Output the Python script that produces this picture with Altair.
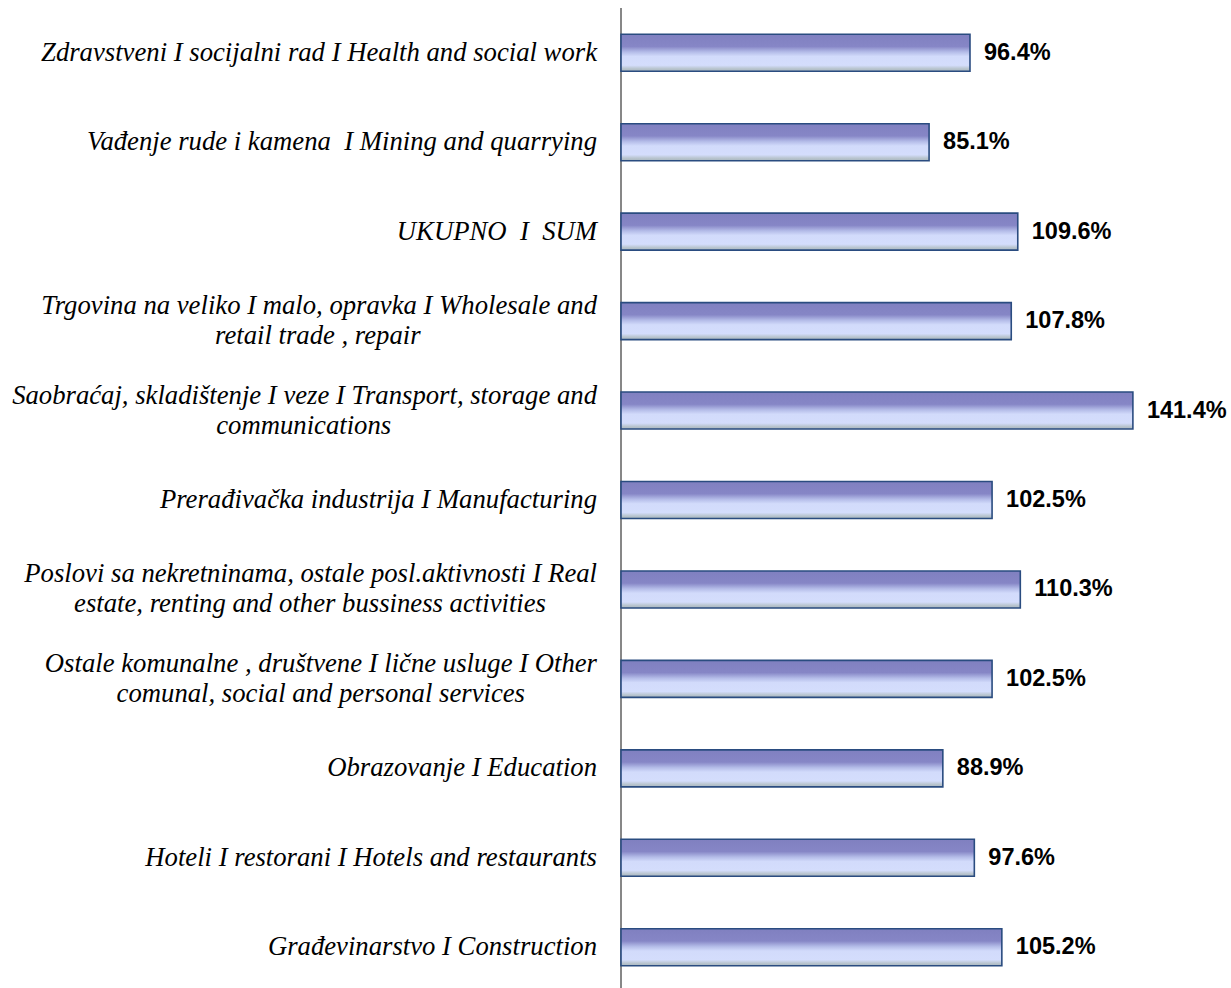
import altair as alt
import pandas as pd

NB = "\u00a0"
line1 = [
    "Zdravstveni I socijalni rad I Health and social work",
    "Vađenje rude i kamena " + NB + "I Mining and quarrying",
    "UKUPNO " + NB + "I " + NB + "SUM",
    "Trgovina na veliko I malo, opravka I Wholesale and",
    "Saobraćaj, skladištenje I veze I Transport, storage and",
    "Prerađivačka industrija I Manufacturing",
    "Poslovi sa nekretninama, ostale posl.aktivnosti I Real",
    "Ostale komunalne , društvene I lične usluge I Other",
    "Obrazovanje I Education",
    "Hoteli I restorani I Hotels and restaurants",
    "Građevinarstvo I Construction",
]
line2 = [
    "",
    "",
    "",
    "retail trade , repair",
    "communications",
    "",
    "estate, renting and other bussiness activities",
    "comunal, social and personal services",
    "",
    "",
    "",
]
values = [96.4, 85.1, 109.6, 107.8, 141.4, 102.5, 110.3, 102.5, 88.9, 97.6, 105.2]
value_labels = ["96.4%", "85.1%", "109.6%", "107.8%", "141.4%", "102.5%",
                "110.3%", "102.5%", "88.9%", "97.6%", "105.2%"]

# layout
W, H = 610, 980
XMAX = 168.5
PX = W / XMAX
FS = 26.7
LABEL_GAP = 24
LINE_SHIFT = 15

# approximate Times Italic advance widths (em/1000) for centering 2nd lines
TW = {" ": 250, NB: 250, ",": 250, ".": 250, "I": 333, "W": 833, "T": 556, "R": 611,
      "a": 500, "b": 500, "c": 444, "d": 500, "e": 444, "f": 278, "g": 500, "h": 500,
      "i": 278, "j": 278, "k": 444, "l": 278, "m": 722, "n": 500, "o": 500, "p": 500,
      "q": 500, "r": 389, "s": 389, "t": 278, "u": 500, "v": 444, "w": 667, "x": 444,
      "y": 444, "z": 389, "ć": 444, "č": 444, "š": 389, "đ": 500, "S": 500, "P": 611,
      "O": 722}


def tw(s):
    return sum(TW.get(ch, 500) for ch in s) * FS / 1000.0


rows = []
for a, b, v, lab in zip(line1, line2, values, value_labels):
    w1 = tw(a)
    rows.append({
        "key": a, "l1": a, "l2": b, "value": v, "label": lab,
        "two": b != "",
        "cx": (-LABEL_GAP - w1 / 2.0) / PX,
    })
df = pd.DataFrame(rows)

yenc = alt.Y("key:N", sort=line1, axis=None,
             scale=alt.Scale(range=[0, 984], paddingInner=0, paddingOuter=0))
xscale = alt.Scale(domain=[0, XMAX], nice=False, zero=True)

base = alt.Chart(df)

axis_line = base.transform_filter("datum.value == " + str(values[0])).mark_rule(
    color="#878787", strokeWidth=2).encode(
    x=alt.value(0), y=alt.value(0), y2=alt.value(H)
)

grad = alt.Gradient(
    gradient="linear", x1=0, y1=0, x2=0, y2=1,
    stops=[
        alt.GradientStop(color="#8080c0", offset=0),
        alt.GradientStop(color="#8686c6", offset=0.33),
        alt.GradientStop(color="#b4bce8", offset=0.48),
        alt.GradientStop(color="#d2dbfb", offset=0.6),
        alt.GradientStop(color="#d4ddfc", offset=0.84),
        alt.GradientStop(color="#b9c5cf", offset=0.93),
        alt.GradientStop(color="#a9b6c0", offset=1),
    ],
)

bars = base.mark_bar(size=37, fill=grad, stroke="#2a4c80", strokeWidth=1.6).encode(
    x=alt.X("value:Q", scale=xscale, axis=None),
    y=yenc,
)

vals = base.mark_text(align="left", baseline="middle", dx=14, font="Liberation Sans",
                      fontWeight="bold", fontSize=23.5, color="#000000").encode(
    x=alt.X("value:Q", scale=xscale),
    y=yenc,
    text="label:N",
)

single = base.transform_filter("!datum.two").mark_text(
    align="right", baseline="middle", font="Liberation Serif", fontStyle="italic",
    fontSize=FS, color="#000000").encode(
    x=alt.value(-LABEL_GAP), y=yenc, text="l1:N")

first = base.transform_filter("datum.two").mark_text(
    align="right", baseline="middle", dy=-LINE_SHIFT, font="Liberation Serif",
    fontStyle="italic", fontSize=FS, color="#000000").encode(
    x=alt.value(-LABEL_GAP), y=yenc, text="l1:N")

second = base.transform_filter("datum.two").mark_text(
    align="center", baseline="middle", dy=LINE_SHIFT, font="Liberation Serif",
    fontStyle="italic", fontSize=FS, color="#000000").encode(
    x=alt.X("cx:Q", scale=xscale), y=yenc, text="l2:N")

chart = alt.layer(axis_line, bars, vals, single, first, second).properties(
    width=W, height=H,
    padding={"left": 621, "top": 8, "right": 0, "bottom": 0},
    autosize=alt.AutoSizeParams(type="none"),
    background="#ffffff",
).configure_view(stroke=None)

chart.save("out.html", embed_options={"renderer": "svg", "actions": False})
